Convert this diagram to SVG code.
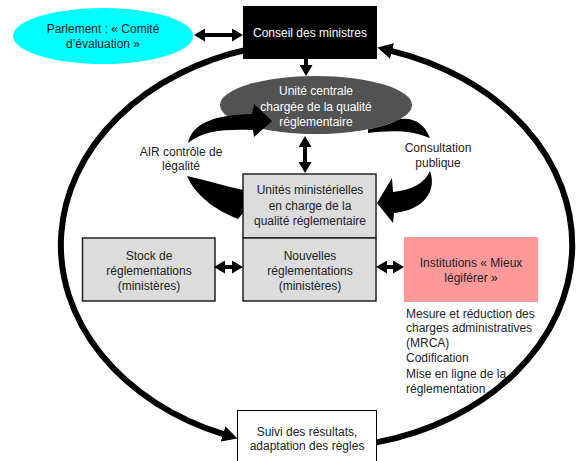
<svg xmlns="http://www.w3.org/2000/svg" width="581" height="461" viewBox="0 0 581 461">
<defs>
<style>
text{font-family:"Liberation Sans",Arial,sans-serif;font-size:12px;fill:#222;text-anchor:middle}
.w{fill:#fff}
.l{text-anchor:start}
.box{fill:#dcdcdc;stroke:#222;stroke-width:1.5}
.loop{fill:none;stroke:#000;stroke-width:6}
.dbl{fill:none;stroke:#000;stroke-width:4}
.blk{fill:#000}
</style>
<marker id="big" viewBox="0 0 15 16" refX="1" refY="8" markerWidth="15" markerHeight="16" markerUnits="userSpaceOnUse" orient="auto"><path d="M0,0 L15,8 L0,16 z"/></marker>
<marker id="sm" viewBox="0 0 11 13" refX="1" refY="6.5" markerWidth="11" markerHeight="13" markerUnits="userSpaceOnUse" orient="auto-start-reverse"><path d="M0,0 L11,6.5 L0,13 z"/></marker>
</defs>
<rect width="581" height="461" fill="#fff"/>

<g id="parlement">
<ellipse cx="103" cy="36" rx="90" ry="28" fill="#00ffff"/>
<text x="103" y="33">Parlement : « Comité</text>
<text x="103" y="48">d’évaluation »</text>
</g>
<g id="conseil">
<rect x="243" y="6" width="134" height="53" fill="#000"/>
<text class="w" x="310" y="37">Conseil des ministres</text>
</g>
<g id="unite-centrale">
<ellipse cx="316" cy="105" rx="96" ry="29" fill="#525252"/>
<text class="w" x="316" y="95">Unité centrale</text>
<text class="w" x="316" y="111">chargée de la qualité</text>
<text class="w" x="316" y="126">réglementaire</text>
</g>
<g id="unites-ministerielles">
<rect class="box" x="243" y="174" width="133" height="64"/>
<text x="310" y="194">Unités ministérielles</text>
<text x="310" y="210">en charge de la</text>
<text x="310" y="225">qualité réglementaire</text>
</g>
<g id="nouvelles">
<rect class="box" x="243" y="238" width="133" height="63"/>
<text x="310" y="260">Nouvelles</text>
<text x="310" y="275">réglementations</text>
<text x="310" y="290">(ministères)</text>
</g>
<g id="stock">
<rect class="box" x="82.5" y="238" width="132.5" height="63"/>
<text x="149" y="260">Stock de</text>
<text x="149" y="275">réglementations</text>
<text x="149" y="290">(ministères)</text>
</g>
<g id="institutions">
<rect x="404" y="237" width="134" height="65" fill="#ff9999"/>
<text x="471" y="267">Institutions « Mieux</text>
<text x="471" y="282">légiférer »</text>
<text class="l" x="406" y="318">Mesure et réduction des</text>
<text class="l" x="406" y="332">charges administratives</text>
<text class="l" x="406" y="347">(MRCA)</text>
<text class="l" x="406" y="362">Codification</text>
<text class="l" x="406" y="378">Mise en ligne de la</text>
<text class="l" x="406" y="393">réglementation</text>
</g>
<g id="suivi">
<rect x="237.5" y="410.5" width="139" height="55" fill="#fff" stroke="#000" stroke-width="1"/>
<text x="307" y="436">Suivi des résultats,</text>
<text x="307" y="450">adaptation des règles</text>
</g>

<g id="connectors">
<path class="loop" d="M250,49 A255.5,203 0 0 0 224,434.3" marker-end="url(#big)"/>
<path class="loop" d="M376.5,442.4 A255.5,203 0 0 0 391,50.8" marker-end="url(#big)"/>
<line class="dbl" x1="204" y1="35" x2="233" y2="35" marker-start="url(#sm)" marker-end="url(#sm)"/>
<line class="dbl" x1="306" y1="59" x2="306" y2="66" marker-end="url(#sm)"/>
<line class="dbl" x1="305" y1="146" x2="305" y2="163" marker-start="url(#sm)" marker-end="url(#sm)"/>
<line class="dbl" x1="224" y1="267" x2="233" y2="267" marker-start="url(#sm)" marker-end="url(#sm)"/>
<line class="dbl" x1="386" y1="267" x2="394" y2="267" marker-start="url(#sm)" marker-end="url(#sm)"/>
<path class="blk" d="M188,143 C192,125 210,115 252,114 L254,104 L272,121 L254,137 L253,130 C228,129 203,130 188,143 Z"/>
<path class="blk" d="M187,176 C205,180 225,186 243,190 L243,213 L238,219 C215,210 195,195 187,176 Z"/>
<path class="blk" d="M368,129.4 A96,29 0 0 0 400,119 C415,117 425,125 430,138 C412,130 390,130 368,133 Z"/>
<path class="blk" d="M430,171 C437,190 425,210 394,213 L393,223 L377,203 L392,178 L393,192 C412,190 425,183 430,171 Z"/>
<text x="181" y="156">AIR contrôle de</text>
<text x="181" y="170">légalité</text>
<text x="438" y="152">Consultation</text>
<text x="438" y="167">publique</text>
</g>
</svg>
